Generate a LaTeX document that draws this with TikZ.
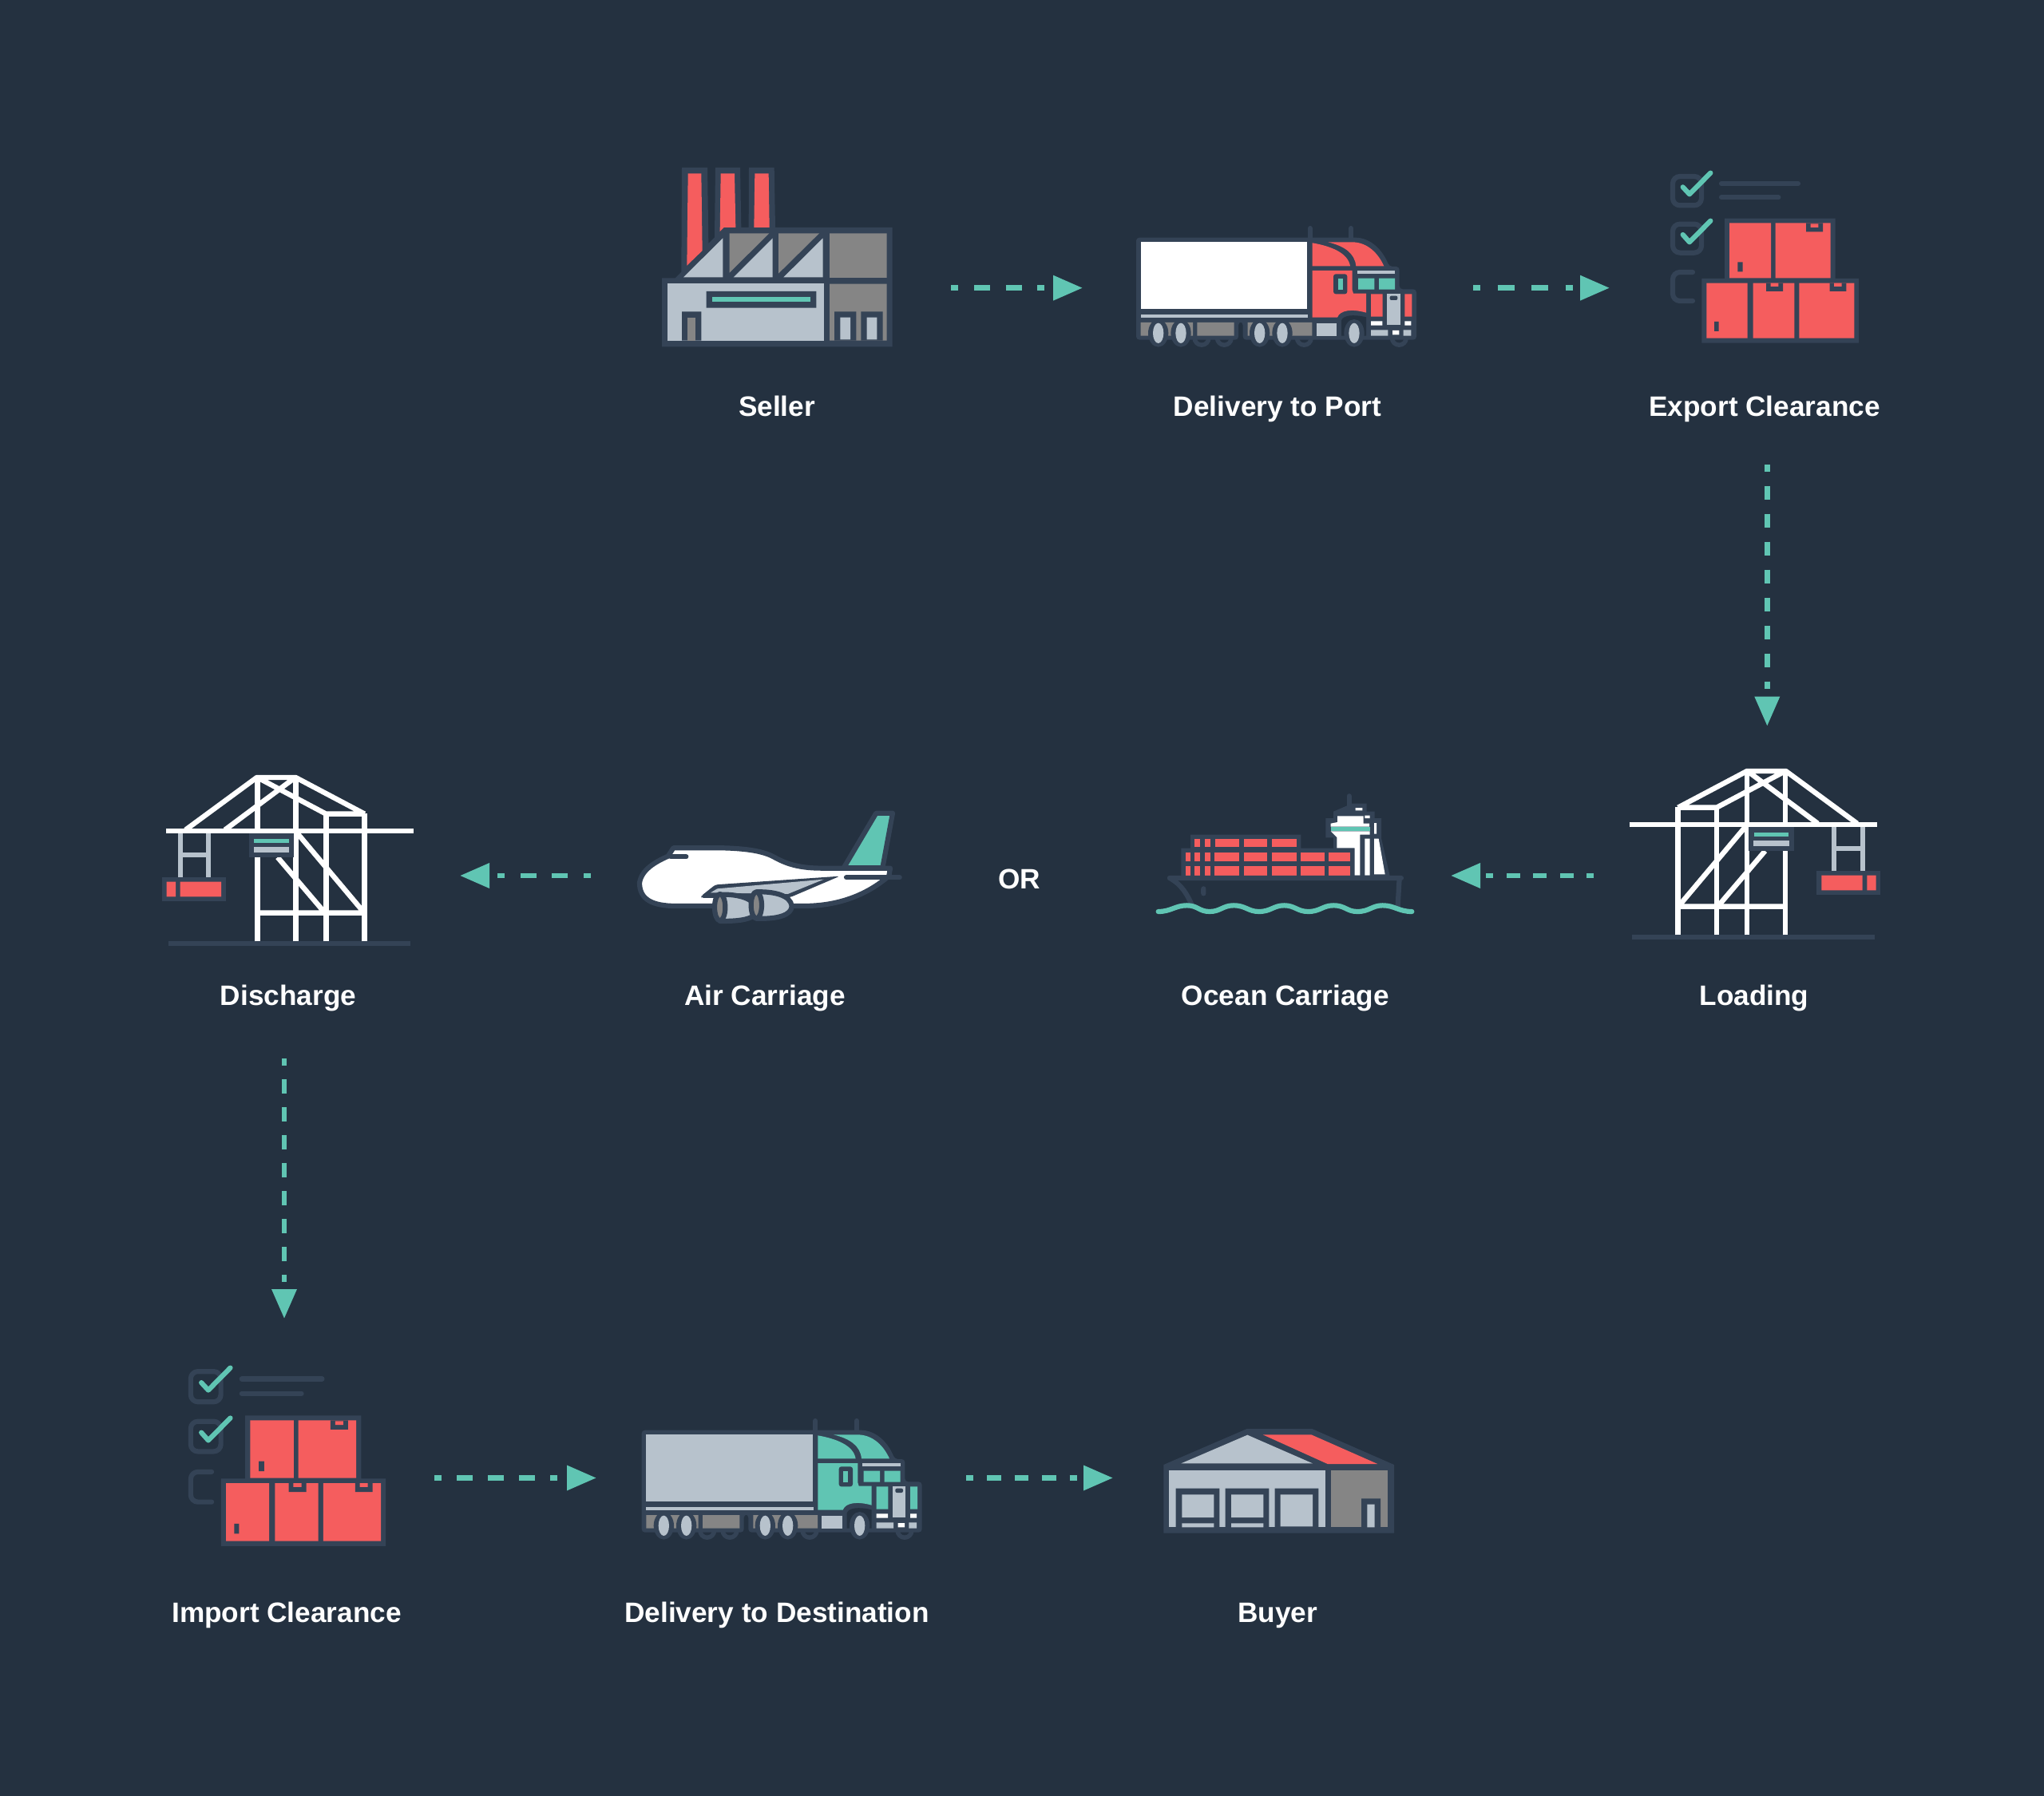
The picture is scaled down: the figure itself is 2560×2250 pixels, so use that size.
\documentclass[tikz,border=0pt]{standalone}
\usepackage{fontspec}
\setmainfont{Liberation Sans}
\usetikzlibrary{arrows.meta}
\definecolor{bgc}{HTML}{243140}
\definecolor{olc}{HTML}{344356}
\definecolor{redc}{HTML}{F55D5E}
\definecolor{tealc}{HTML}{60C5B3}
\definecolor{lightc}{HTML}{B7C2CC}
\definecolor{grayc}{HTML}{858585}
\tikzset{
  lab/.style={text=white,font=\fontsize{35.2}{42}\selectfont\bfseries,anchor=base,inner sep=0pt},
  flowbase/.style={tealc,line width=6.6pt,-{Triangle[length=37pt,width=30pt]}},
  flowtwo/.style 2 args={flowbase,dash pattern=on 9pt off #2 on #1 off #2 on #1 off #2 on 9pt off 600pt},
  flowthree/.style 2 args={flowbase,dash pattern=on 9pt off #2 on #1 off #2 on #1 off #2 on #1 off #2 on 9pt off 600pt},
  flowseven/.style={flowbase,dash pattern=on 9pt off 17.3pt on 17.7pt off 17.3pt on 17.7pt off 17.3pt on 17.7pt off 17.3pt on 17.7pt off 17.3pt on 17.7pt off 17.3pt on 17.7pt off 17.3pt on 17.7pt off 17.3pt on 9pt off 600pt},
  olline/.style={draw=olc,line width=6.2pt,line cap=round,line join=round},
  whiteline/.style={draw=white,line width=6.4pt},
}
% Truck icon in its own zoom coordinates. #1 trailer, #2 cab
\newcommand{\truckicon}[2]{%
  \fill[olc] (315,490) circle (35) (400,490) circle (35) (700,490) circle (35) (1057,490) circle (35);
  \fill[bgc] (315,490) circle (18) (400,490) circle (18) (700,490) circle (18) (1057,490) circle (18);
  \fill[olc,rounded corners=4pt] (69,113) -- (880,113) .. controls (950,113) and (995,160) .. (1020,222) -- (1058,222) -- (1058,307) -- (1122,307) -- (1122,497) -- (470,497) -- (470,430) -- (453,430) -- (453,497) -- (69,497) -- cycle;
  \draw[olline] (722,78) -- (722,115) (877,78) -- (877,115);
  \fill[#1] (86,130) rectangle (711,382);
  \fill[lightc] (86,403) rectangle (714,414);
  \fill[grayc] (86,432) rectangle (282,482) (298,432) rectangle (437,482) (488,432) rectangle (730,482);
  \fill[lightc] (746,434) rectangle (823,482);
  \fill[#2] (731,133) .. controls (800,145) and (865,170) .. (873,220) -- (731,220) -- cycle;
  \fill[#2] (790,130) -- (880,130) .. controls (940,130) and (980,175) .. (1000,220) -- (895,220) .. controls (890,170) and (850,145) .. (790,130) -- cycle;
  \fill[#2] (731,237) -- (881,237) -- (881,310) -- (885,323) -- (933,323) -- (933,395) .. controls (880,380) and (835,385) .. (825,413) -- (731,413) -- cycle;
  \fill[lightc] (899,238) rectangle (1041,249);
  \fill[tealc] (903,266) rectangle (964,308) (981,266) rectangle (1041,308);
  \fill[olc,rounded corners=3pt] (810,250) rectangle (862,325);
  \fill[tealc] (827,267) rectangle (845,308);
  \fill[#2] (951,325) rectangle (995,410) (1078,325) rectangle (1105,410);
  \fill[lightc] (1012,325) rectangle (1061,441);
  \fill[olc,rounded corners=2pt] (1022,332) rectangle (1051,348);
  \fill[white] (951,427) rectangle (994,443) (1078,427) rectangle (1102,443) (1032,462) rectangle (1057,478);
  \fill[lightc] (951,460) rectangle (1015,482) (1073,460) rectangle (1102,482);
  \fill[bgc] (840,482) -- (840,425) .. controls (845,405) and (885,400) .. (933,412) -- (933,482) -- cycle;
  \fill[olc] (152,472) ellipse [x radius=38,y radius=52] (237,472) ellipse [x radius=38,y radius=52] (533,472) ellipse [x radius=38,y radius=52] (618,472) ellipse [x radius=38,y radius=52] (888,472) ellipse [x radius=38,y radius=52];
  \fill[lightc] (152,472) ellipse [x radius=20,y radius=38] (237,472) ellipse [x radius=20,y radius=38] (533,472) ellipse [x radius=20,y radius=38] (618,472) ellipse [x radius=20,y radius=38] (888,472) ellipse [x radius=20,y radius=38];
}
% Checklist and boxes icon
\newcommand{\boxesicon}{%
  \draw[olline,rounded corners=9pt] (105,93) rectangle (213,202);
  \draw[olline,rounded corners=9pt] (105,272) rectangle (213,380);
  \draw[olline,rounded corners=9pt] (180,453) -- (105,453) -- (105,561) -- (180,561);
  \draw[olline] (288,120) -- (576,120) (288,172) -- (502,172);
  \draw[tealc,line width=6.2pt,line cap=round,line join=round] (143,133) -- (168,160) -- (247,80);
  \draw[tealc,line width=6.2pt,line cap=round,line join=round] (143,312) -- (168,340) -- (247,260);
  \fill[olc] (300,251) rectangle (716,480) (214,477) rectangle (804,719);
  \fill[redc] (318,268) rectangle (474,475) (491,268) rectangle (698,475) (232,494) rectangle (386,701) (407,494) rectangle (562,701) (580,494) rectangle (787,701);
  \fill[olc] (606,268) rectangle (669,301) (456,494) rectangle (519,525) (695,494) rectangle (757,525) (349,415) rectangle (368,451) (261,639) rectangle (278,675);
  \fill[redc] (623,271) rectangle (652,285) (473,494) rectangle (502,507) (711,494) rectangle (740,507);
}
% Crane icon
\newcommand{\craneicon}{%
  \fill[olc] (72,664) rectangle (983,681);
  \draw[lightc,line width=6.2pt] (832,258) -- (832,425) (938,258) -- (938,425) (832,338) -- (938,338);
  \fill[olc] (766,423) rectangle (1006,514);
  \fill[redc] (784,440) rectangle (938,496) (955,440) rectangle (989,496);
  \draw[whiteline] (245,664) -- (245,182) (390,664) -- (390,185) (504,664) -- (504,48) (648,664) -- (648,48);
  \draw[whiteline,line join=round] (245,185) -- (504,48) -- (650,48) -- (918,245) (390,185) -- (648,48) (245,185) -- (390,185) (515,55) -- (770,245);
  \draw[whiteline] (252,550) -- (500,255) (400,550) -- (572,348) (245,557) -- (648,557);
  \draw[white,line width=6.6pt] (62,249) -- (992,249);
  \fill[olc] (511,258) rectangle (680,348);
  \fill[tealc] (530,279) rectangle (660,293);
  \fill[lightc] (528,310) rectangle (662,331);
}
\begin{document}
\begin{tikzpicture}[x=1pt,y=-1pt]
\useasboundingbox (0,0) rectangle (2560,2250);
\fill[bgc] (0,0) rectangle (2560,2250);

% Seller: factory
\begin{scope}[shift={(800,190)},scale=1/3]
  \fill[olc] (87,475) -- (137,475) -- (160,452) -- (162,60) -- (258,60) -- (262,345) -- (285,322) -- (288,60) -- (381,60) -- (385,285) -- (413,285) -- (414,60) -- (509,60) -- (513,285) -- (953,285) -- (953,733) -- (87,733) -- cycle;
  \fill[redc] (185,82) -- (235,82) -- (239,372) -- (181,428) -- cycle;
  \fill[redc] (308,82) -- (360,82) -- (364,285) -- (320,285) -- (305,300) -- cycle;
  \fill[redc] (436,82) -- (488,82) -- (491,285) -- (433,285) -- cycle;
  \fill[lightc] (168,472) -- (316,325) -- (316,472) -- cycle (356,472) -- (503,325) -- (503,472) -- cycle (544,472) -- (692,325) -- (692,472) -- cycle;
  \fill[grayc] (341,307) -- (490,307) -- (341,455) -- cycle (525,307) -- (678,307) -- (525,458) -- cycle;
  \fill[grayc] (717,307) rectangle (932,474) (717,497) rectangle (932,710);
  \fill[lightc] (108,495) rectangle (695,710);
  \fill[olc] (254,525) rectangle (667,587) (162,601) rectangle (235,710) (735,601) rectangle (817,710) (835,601) rectangle (917,710);
  \fill[tealc] (276,547) rectangle (645,565);
  \fill[grayc] (184,623) rectangle (214,710);
  \fill[lightc] (757,623) rectangle (795,706) (857,623) rectangle (895,706);
\end{scope}

% Delivery to Port: truck
\begin{scope}[shift={(1400,260)},scale=1/3]
  \truckicon{white}{redc}
\end{scope}

% Export Clearance
\begin{scope}[shift={(2060,190)},scale=1/3]
  \boxesicon
\end{scope}

% Loading: crane
\begin{scope}[shift={(2020,950)},scale=1/3]
  \craneicon
\end{scope}

% Ocean Carriage: ship
\begin{scope}[shift={(1430,980)},scale=1/3]
  \draw[olline] (779,52) -- (779,110);
  \fill[olc] (790,80) -- (845,80) -- (845,110) -- (875,110) -- (875,135) -- (900,135) -- (900,210) -- (932,352) -- (800,360) -- (720,247) -- (720,208) -- (691,208) -- (691,135) -- (720,135) -- (720,110) -- cycle;
  \fill[olc] (183,197) rectangle (598,248) (148,248) rectangle (800,360);
  \fill[white] (735,127) -- (833,127) -- (833,155) -- (855,155) -- (855,167) -- (710,167) -- (710,155) -- (735,150) -- cycle;
  \fill[tealc] (710,167) rectangle (857,184);
  \fill[white] (710,184) -- (857,184) -- (857,197) -- (820,197) -- (820,350) -- (800,350) -- (800,247) -- (733,247) -- (733,207) -- (710,184) -- cycle;
  \fill[white] (838,212) rectangle (857,350) (873,153) rectangle (882,194) (838,125) rectangle (857,135) (803,96) rectangle (829,106);
  \fill[white] (873,212) -- (890,212) -- (914,346) -- (873,346) -- cycle;
  \foreach \xa/\xb in {199/220,237/257,275/365,383/472,489/581} {\fill[redc] (\xa,214) rectangle (\xb,244);}
  \foreach \xa/\xb in {165/182,199/220,237/257,273/366,383/472,489/581,598/687,703/784} {
    \fill[redc] (\xa,263) rectangle (\xb,298);
    \fill[redc] (\xa,316) rectangle (\xb,351);}
  \draw[olline] (105,360) -- (975,360) (968,360) -- (962,465) (232,400) -- (232,418);
  \draw[olline] (105,360) .. controls (150,385) and (170,420) .. (190,465);
  \draw[tealc,line width=6.2pt,line cap=round] (62,486) .. controls (110,486) and (125,463) .. (170,463) .. controls (210,463) and (215,486) .. (255,486) .. controls (295,486) and (305,463) .. (345,463) .. controls (390,463) and (400,486) .. (440,486) .. controls (485,486) and (495,463) .. (535,463) .. controls (575,463) and (585,486) .. (625,486) .. controls (670,486) and (680,463) .. (720,463) .. controls (765,463) and (770,486) .. (810,486) .. controls (855,486) and (865,463) .. (905,463) .. controls (950,463) and (965,486) .. (1015,486);
\end{scope}

% Air Carriage: plane
\begin{scope}[shift={(790,1000)},scale=1/3]
  \draw[olline,fill=tealc] (800,262) -- (922,56) -- (984,56) -- (946,262) -- cycle;
  \draw[olline,fill=white] (33,318) .. controls (40,270) and (90,240) .. (140,218) -- (160,187) -- (350,187) .. controls (460,190) and (510,205) .. (540,222) .. controls (590,250) and (640,263) .. (720,263) -- (975,263) -- (970,292) .. controls (880,370) and (770,405) .. (650,405) -- (170,405) .. controls (80,405) and (33,380) .. (33,318) -- cycle;
  \draw[olline] (150,220) -- (208,220) (810,298) -- (1010,298);
  \fill[olc,rounded corners=3pt] (265,367) -- (318,325) -- (785,293) -- (600,372) -- (265,375) -- cycle;
  \fill[lightc] (300,355) -- (325,340) -- (725,305) -- (590,360) -- cycle;
  \draw[olline,fill=lightc] (335,362) .. controls (400,360) and (450,375) .. (465,400) -- (465,440) .. controls (440,458) and (400,462) .. (335,462) -- cycle;
  \draw[olline,fill=grayc] (335,410) ellipse [x radius=20,y radius=50];
  \draw[olline,fill=lightc] (472,352) .. controls (540,350) and (600,365) .. (605,405) .. controls (605,440) and (550,455) .. (472,452) -- cycle;
  \draw[olline,fill=grayc] (472,402) ellipse [x radius=20,y radius=50];
\end{scope}

% Discharge: mirrored crane
\begin{scope}[shift={(538.33,958)},xscale=-1/3,yscale=1/3]
  \craneicon
\end{scope}

% Import Clearance
\begin{scope}[shift={(202.2,1685.65)},scale=1.048/3]
  \boxesicon
\end{scope}

% Delivery to Destination: truck
\begin{scope}[shift={(780.67,1754)},scale=1/3]
  \truckicon{lightc}{tealc}
\end{scope}

% Buyer: warehouse
\begin{scope}[shift={(1440,1770)},scale=1/3]
  \fill[olc] (52,195) -- (365,60) -- (610,60) -- (918,195) -- (918,452) -- (52,452) -- cycle;
  \fill[lightc] (118,190) -- (367,83) -- (612,190) -- cycle;
  \fill[redc] (425,82) -- (607,82) -- (856,192) -- (668,192) -- cycle;
  \fill[lightc] (72,215) rectangle (660,430);
  \fill[grayc] (682,215) rectangle (895,430);
  \fill[olc] (98,284) rectangle (262,430) (284,284) rectangle (448,430) (470,284) rectangle (634,430) (795,322) rectangle (867,430);
  \fill[lightc] (121,307) rectangle (241,393) (121,415) rectangle (241,430) (306,307) rectangle (427,393) (306,415) rectangle (427,430) (491,307) rectangle (612,427) (817,344) rectangle (845,430);
\end{scope}

% Labels
\node[lab] (seller) at (973,521.7) {Seller};
\node[lab] (port) at (1600,521.7) {Delivery to Port};
\node[lab] (export) at (2210,521.7) {Export Clearance};
\node[lab] (loading) at (2197,1259.7) {Loading};
\node[lab] (ocean) at (1610,1259.7) {Ocean Carriage};
\node[lab] (or) at (1277,1113) {OR};
\node[lab] (air) at (958,1259.7) {Air Carriage};
\node[lab] (discharge) at (361,1259.7) {Discharge};
\node[lab] (import) at (359,2032) {Import Clearance};
\node[lab] (dest) at (973,2032) {Delivery to Destination};
\node[lab] (buyer) at (1600,2032) {Buyer};

% Connector ends
\coordinate (a1s) at (1191.3,360.7); \coordinate (a1e) at (1356,360.7);
\coordinate (a2s) at (1845,360.7); \coordinate (a2e) at (2016,360.7);
\coordinate (a3s) at (2213.3,582.3); \coordinate (a3e) at (2213.3,909.7);
\coordinate (a4s) at (1996,1097); \coordinate (a4e) at (1817,1097);
\coordinate (a5s) at (740,1097); \coordinate (a5e) at (576,1097);
\coordinate (a6s) at (356,1326); \coordinate (a6e) at (356,1652);
\coordinate (a7s) at (544,1851.5); \coordinate (a7e) at (747,1851.5);
\coordinate (a8s) at (1210,1851.5); \coordinate (a8e) at (1394,1851.5);

\draw[flowtwo={20pt}{19.7pt}] (a1s) -- (a1e);
\draw[flowtwo={21pt}{21.5pt}] (a2s) -- (a2e);
\draw[flowseven] (a3s) -- (a3e);
\draw[flowthree={17pt}{16.5pt}] (a4s) -- (a4e);
\draw[flowtwo={20pt}{19.7pt}] (a5s) -- (a5e);
\draw[flowseven] (a6s) -- (a6e);
\draw[flowthree={20pt}{19pt}] (a7s) -- (a7e);
\draw[flowthree={17.5pt}{17pt}] (a8s) -- (a8e);
\end{tikzpicture}
\end{document}
